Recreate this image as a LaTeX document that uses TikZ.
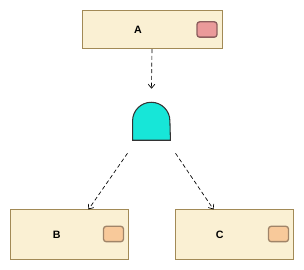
\documentclass[tikz,border=0pt]{standalone}
\usepackage{fontspec}
\setmainfont{Liberation Sans}
\usetikzlibrary{positioning, arrows.meta, calc}

\definecolor{boxfill}{HTML}{FAF0D3}
\definecolor{boxline}{HTML}{A28A56}
\definecolor{redfill}{HTML}{EA9A9A}
\definecolor{redline}{HTML}{8C5E5E}
\definecolor{orgfill}{HTML}{F8C99A}
\definecolor{orgline}{HTML}{A08468}
\definecolor{gatefill}{HTML}{17E6D8}

\tikzset{
  event/.style={draw=boxline, fill=boxfill, line width=0.6pt,
    inner sep=0pt, font=\fontsize{8}{10}\selectfont\bfseries},
  tag/.style={draw=#1line, fill=#1fill, line width=1pt, rounded corners=2pt,
    minimum width=15pt, minimum height=11.5pt, inner sep=0pt},
  link/.style={densely dashed, line width=0.5pt, -{Straight Barb[length=3pt,width=5pt]}}
}

\begin{document}
\begin{tikzpicture}[x=0.75pt, y=-0.75pt]
    \useasboundingbox (0,0) rectangle (304,270);

    % --- events ---
    \node[event, minimum width=105pt, minimum height=29pt] (A) at (152,29.5) {\hspace*{-21pt}A};
    \node[event, minimum width=88pt, minimum height=37pt] (B) at (69.5,234.5) {\hspace*{-19pt}B};
    \node[event, minimum width=88pt, minimum height=37pt] (C) at (234.5,234.5) {\hspace*{-22pt}C};

    % --- colour tags ---
    \node[tag=red] (tagA) at (207,29.5) {};
    \node[tag=org] (tagB) at (113.5,234) {};
    \node[tag=org] (tagC) at (278.5,234) {};

    % --- gate ---
    \node[minimum width=28pt, minimum height=28.5pt, inner sep=0pt] (gate) at (151.5,121) {};
    \draw[fill=gatefill, draw=black!80, line width=0.8pt]
      (gate.south west) -- ([yshift=14.5pt]gate.south west)
      arc[start angle=180, end angle=0, radius=14pt]
      -- (gate.south east) -- cycle;

    % --- links ---
    \coordinate (gA) at ($(gate.north)+(0,-13)$);
    \coordinate (gB) at ($(gate.south)+(-24,13)$);
    \coordinate (gC) at ($(gate.south)+(24,13)$);
    \coordinate (inB) at ($(B.north)+(19,0)$);
    \coordinate (inC) at ($(C.north)+(-21,0)$);
    \draw[link] (A.south) -- (gA);
    \draw[link] (gB) -- (inB);
    \draw[link] (gC) -- (inC);

\end{tikzpicture}
\end{document}
